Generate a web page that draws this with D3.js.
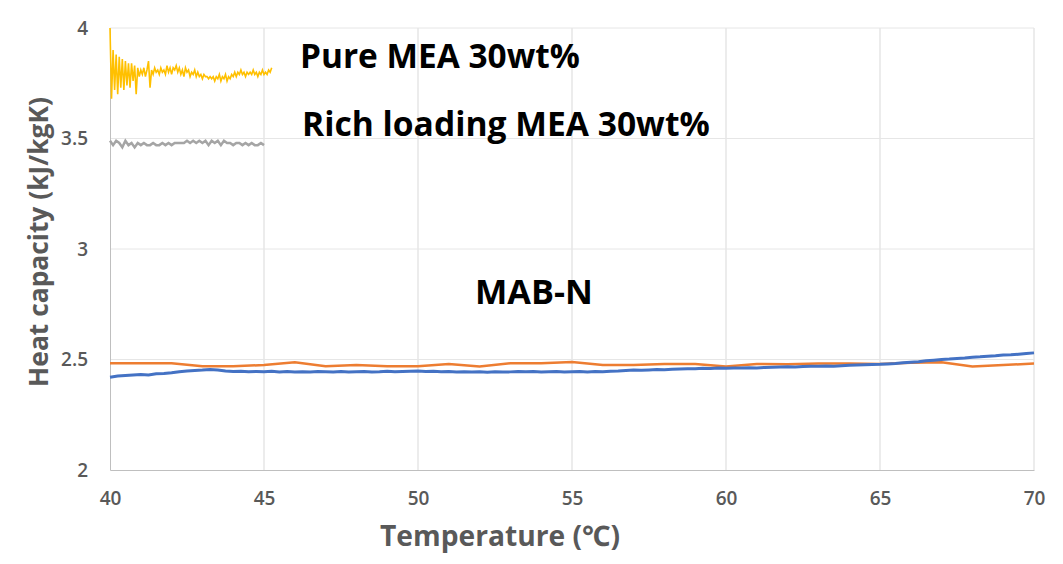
<!DOCTYPE html>
<html><head><meta charset="utf-8">
<script src="https://cdn.jsdelivr.net/npm/d3@7"></script>
<style>body{margin:0;background:#fff}svg{display:block}text{font-family:"Open Sans","Noto Sans",sans-serif}</style>
</head><body>
<svg id="c" width="1063" height="564"></svg>
<script>
const xTicks = [40,45,50,55,60,65,70];
const yTicks = [2,2.5,3,3.5,4];
const yTickLabels = ["2","2.5","3","3.5","4"];

// Pure MEA 30wt% (yellow), sampled every 0.05 °C from 40
const pureStart = 40, pureStep = 0.05;
const pureMEA = [4.00,3.68,3.90,3.72,3.88,3.70,3.87,3.73,3.86,3.72,3.85,3.74,3.84,3.73,3.84,3.76,3.83,3.70,3.82,3.78,
 3.81,3.79,3.82,3.78,3.81,3.85,3.73,3.81,3.79,3.82,3.80,3.81,3.79,3.82,3.80,3.81,3.79,3.83,3.80,3.82,
 3.79,3.82,3.81,3.83,3.80,3.82,3.79,3.81,3.78,3.82,3.80,3.81,3.78,3.80,3.79,3.81,3.78,3.80,3.78,3.79,
 3.77,3.79,3.78,3.78,3.77,3.78,3.77,3.78,3.76,3.78,3.77,3.79,3.76,3.78,3.77,3.79,3.76,3.78,3.77,3.79,
 3.78,3.80,3.78,3.80,3.79,3.81,3.79,3.80,3.78,3.80,3.79,3.80,3.79,3.81,3.79,3.80,3.78,3.80,3.79,3.81,
 3.79,3.80,3.79,3.81,3.80,3.82];

// Rich loading MEA 30wt% (gray), every 0.1 °C from 40 to 45
const richStart = 40, richStep = 0.1;
const richMEA = [3.49,3.47,3.49,3.48,3.46,3.49,3.47,3.48,3.46,3.48,3.47,3.48,3.47,3.47,3.48,3.47,3.47,3.48,3.47,3.48,
 3.47,3.48,3.48,3.48,3.48,3.49,3.48,3.49,3.48,3.49,3.48,3.49,3.47,3.49,3.48,3.49,3.47,3.49,3.48,3.48,
 3.47,3.48,3.48,3.47,3.48,3.47,3.48,3.47,3.47,3.48,3.47];

// MAB-N measured (blue), every 0.25 °C from 40 to 70
const mabStart = 40, mabStep = 0.25;
const mabN = [2.420,2.425,2.428,2.430,2.432,2.430,2.435,2.437,2.440,2.445,2.448,2.450,2.452,2.455,2.452,2.448,2.446,2.447,2.445,2.446,
 2.445,2.447,2.444,2.446,2.443,2.445,2.444,2.446,2.445,2.444,2.446,2.444,2.445,2.446,2.444,2.445,2.447,2.445,2.446,2.447,
 2.448,2.446,2.447,2.445,2.446,2.444,2.445,2.443,2.444,2.442,2.445,2.443,2.444,2.446,2.445,2.446,2.444,2.445,2.446,2.444,
 2.445,2.446,2.444,2.446,2.445,2.447,2.448,2.450,2.452,2.451,2.453,2.455,2.454,2.456,2.457,2.458,2.458,2.460,2.459,2.461,
 2.460,2.462,2.461,2.463,2.462,2.464,2.465,2.466,2.467,2.466,2.468,2.469,2.470,2.471,2.470,2.472,2.474,2.475,2.476,2.477,
 2.478,2.480,2.482,2.485,2.488,2.490,2.494,2.497,2.500,2.502,2.505,2.507,2.510,2.512,2.515,2.517,2.520,2.521,2.524,2.527,2.530];

// MAB-N reference (orange), integer temperatures
const orangeT = [40,41,42,43,44,45,46,47,48,49,50,51,52,53,54,55,56,57,58,59,60,61,62,63,64,65,66,67,68,69,70];
const orangeV = [2.483,2.483,2.483,2.470,2.470,2.475,2.487,2.470,2.475,2.470,2.470,2.480,2.468,2.483,2.483,2.489,2.475,2.475,2.480,2.480,
 2.468,2.480,2.478,2.482,2.482,2.480,2.485,2.488,2.468,2.475,2.482];

const labels = [
  {text:"Pure MEA 30wt%", x:300, y:68, w:280},
  {text:"Rich loading MEA 30wt%", x:302, y:136, w:408},
  {text:"MAB-N", x:475, y:304, w:118}
];

const svg = d3.select("#c");
const L=110, R=1034, T=28, B=470;
const x = d3.scaleLinear().domain([40,70]).range([L,R]);
const y = d3.scaleLinear().domain([2,4]).range([B,T]);

// gridlines
svg.append("g").selectAll("line").data(xTicks.slice(1)).join("line")
  .attr("x1",d=>x(d)).attr("x2",d=>x(d)).attr("y1",T).attr("y2",B)
  .attr("stroke","#d9d9d9").attr("stroke-width",1);
svg.append("g").selectAll("line").data(yTicks.slice(1)).join("line")
  .attr("x1",L).attr("x2",R).attr("y1",d=>y(d)).attr("y2",d=>y(d))
  .attr("stroke","#e6e6e6").attr("stroke-width",1);

// axes
const xa = svg.append("g").attr("transform",`translate(0,${B})`)
  .call(d3.axisBottom(x).tickValues(xTicks).tickSize(0).tickPadding(22));
xa.select(".domain").attr("stroke","#bfbfbf");
xa.selectAll("text").attr("font-size",19).attr("font-weight",600).attr("fill","#595959");
const ya = svg.append("g").attr("transform",`translate(${L},0)`)
  .call(d3.axisLeft(y).tickValues(yTicks).tickFormat((d,i)=>yTickLabels[i]).tickSize(0).tickPadding(22));
ya.select(".domain").attr("stroke","#bfbfbf");
ya.selectAll("text").attr("font-size",19).attr("font-weight",600).attr("fill","#595959");

const line = d3.line().x(d=>x(d[0])).y(d=>y(d[1]));
const pts = (arr,s,st)=>arr.map((v,i)=>[s+i*st,v]);

svg.append("path").datum(orangeT.map((t,i)=>[t,orangeV[i]])).attr("d",line)
  .attr("fill","none").attr("stroke","#ED7D31").attr("stroke-width",2.5);
svg.append("path").datum(pts(mabN,mabStart,mabStep)).attr("d",line)
  .attr("fill","none").attr("stroke","#4472C4").attr("stroke-width",3);
svg.append("path").datum(pts(richMEA,richStart,richStep)).attr("d",line)
  .attr("fill","none").attr("stroke","#A5A5A5").attr("stroke-width",2.5);
svg.append("path").datum(pts(pureMEA,pureStart,pureStep)).attr("d",line)
  .attr("fill","none").attr("stroke","#FFC000").attr("stroke-width",1.6);

function fit(sel,w){ const n=sel.node(); let fs=+sel.attr("font-size"); const l=n.getComputedTextLength(); sel.attr("font-size",fs*w/l); }

labels.forEach(l=>{
  const t = svg.append("text").attr("x",l.x).attr("y",l.y).attr("font-size",30).attr("font-weight",700).attr("fill","#000").text(l.text);
  fit(t,l.w);
});

const xt = svg.append("text").attr("x",500).attr("y",546).attr("text-anchor","middle")
  .attr("font-size",28).attr("font-weight",700).attr("fill","#595959").text("Temperature (℃)");
fit(xt,240);
const yt = svg.append("text").attr("transform","translate(48,242) rotate(-90)").attr("text-anchor","middle")
  .attr("font-size",28).attr("font-weight",700).attr("fill","#595959").text("Heat capacity (kJ/kgK)");
fit(yt,290);
</script>
</body></html>
